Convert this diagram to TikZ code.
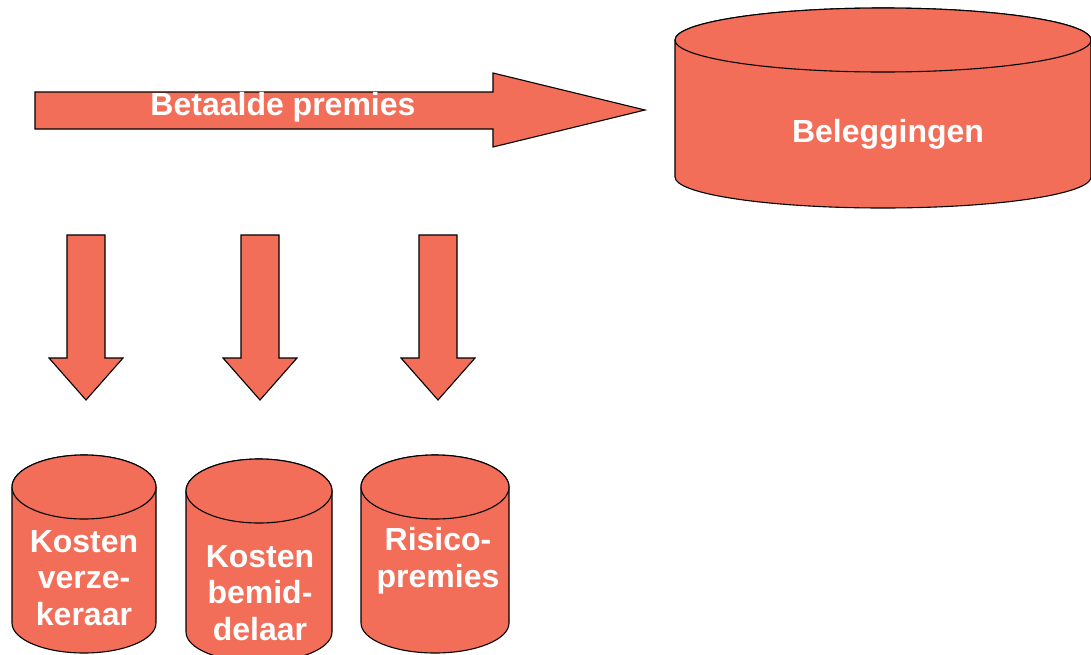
\documentclass[tikz,border=0pt]{standalone}
\usepackage{fontspec}
\setmainfont{Liberation Sans}
\definecolor{salmon}{RGB}{242,110,88}
\tikzset{
  shapefill/.style={fill=salmon, draw=black, line width=1.1pt, line join=miter},
  lbl/.style={text=white, font=\bfseries\fontsize{32}{36.5}\selectfont, inner sep=0pt, align=center},
}
\newcommand{\mycyl}[6]{% cx, rx, ytop, ry top, ybot, ry bottom
  \path[shapefill] (#1-#2,#3) -- (#1-#2,#5) arc[start angle=180, end angle=0, x radius=#2, y radius=#6]
    -- (#1+#2,#3) arc[start angle=0, end angle=-180, x radius=#2, y radius=#4] -- cycle;
  \path[shapefill] (#1,#3) ellipse[x radius=#2, y radius=#4];
}
\newcommand{\dnarrow}[1]{% cx
  \path[shapefill] (#1-19,235) -- (#1+19,235) -- (#1+19,358) -- (#1+37,358) -- (#1,400)
    -- (#1-37,358) -- (#1-19,358) -- cycle;
}
\begin{document}
\begin{tikzpicture}[x=1pt, y=-1pt]
\useasboundingbox (0,0) rectangle (1091,654);
\clip (0,0) rectangle (1091,654);
% big arrow
\path[shapefill] (35,92) -- (493,92) -- (493,73) -- (645,110) -- (493,147) -- (493,129) -- (35,129) -- cycle;
\node[lbl, anchor=base] (premies) at (283,115) {Betaalde premies};
% big cylinder
\mycyl{883}{208}{40}{32}{177}{31}
\node[lbl, anchor=base] (beleg) at (888,142) {Beleggingen};
% down arrows
\dnarrow{86}
\dnarrow{260}
\dnarrow{438}
% small cylinders
\mycyl{84}{72}{487}{32}{623}{30}
\mycyl{259}{73}{491}{32}{632}{30}
\mycyl{435}{74}{487}{32}{623}{30}
\node[lbl, anchor=base] (kv) at (84,625) {Kosten\\verze-\\keraar};
\node[lbl, anchor=base] (kb) at (260,640) {Kosten\\bemid-\\delaar};
\node[lbl, anchor=base] (rp) at (438,587) {Risico-\\premies};
\end{tikzpicture}
\end{document}
